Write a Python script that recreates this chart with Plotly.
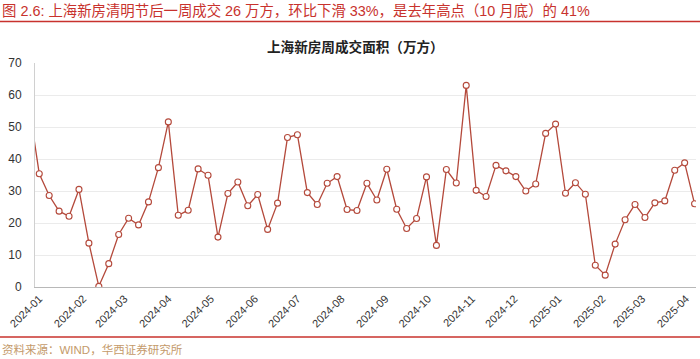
import pandas as pd
import plotly.graph_objects as go

# Weekly dates (week start, Mondays); first point lies just left of the axis range
weeks = pd.date_range("2023-12-25", periods=68, freq="7D")

# 上海新房周成交面积（万方）
area = [
    56.0,
    35.4, 28.6, 23.7, 22.1, 30.5, 13.7, 0.2, 7.3, 16.4, 21.5,
    19.4, 26.6, 37.3, 51.6, 22.4, 24.0, 36.9, 34.9, 15.6, 29.2,
    32.8, 25.4, 28.9, 18.0, 26.2, 46.7, 47.6, 29.5, 25.8, 32.4,
    34.5, 24.2, 23.9, 32.4, 27.2, 36.8, 24.3, 18.3, 21.4, 34.4,
    13.0, 36.7, 32.5, 63.0, 30.2, 28.3, 38.0, 36.3, 34.5, 30.0,
    32.2, 48.0, 50.9, 29.3, 32.6, 29.0, 6.8, 3.7, 13.4, 21.0,
    25.8, 21.7, 26.3, 26.9, 36.5, 38.8, 26.0,
]

y_ticks = [0, 10, 20, 30, 40, 50, 60, 70]

header = "图 2.6: 上海新房清明节后一周成交 26 万方，环比下滑 33%，是去年高点（10 月底）的 41%"
chart_title = "<b>上海新房周成交面积（万方）</b>"
source = "资料来源：WIND，华西证券研究所"

line_color = "#b4493b"
red = "#c8322d"
tan = "#c49a6a"
font_family = "Liberation Sans, Arial, Noto Sans CJK SC, sans-serif"

fig = go.Figure()
fig.add_trace(go.Scatter(
    x=weeks, y=area, mode="lines+markers",
    line=dict(color=line_color, width=1.3),
    marker=dict(symbol="circle", size=6, color="white",
                line=dict(color=line_color, width=1.1)),
    showlegend=False,
))

W, H = 700, 359
L, R, T, B = 35, 4, 63, 72
pw, ph = W - L - R, H - T - B

def px(X):
    return (X - L) / pw

def py(Y):
    return (H - B - Y) / ph

fig.update_layout(
    width=W, height=H,
    margin=dict(l=L, r=R, t=T, b=B),
    paper_bgcolor="white", plot_bgcolor="white",
    font=dict(family=font_family, size=11, color="#333333"),
    xaxis=dict(
        type="date",
        range=["2023-12-29", "2025-04-08"],
        dtick="M1", tick0="2024-01-01", tickformat="%Y-%m",
        tickangle=-45, tickfont=dict(size=11, color="#333333"),
        showgrid=False, showline=True, linecolor="#b8b8b8", linewidth=1,
        ticks="", zeroline=False,
    ),
    yaxis=dict(
        range=[0, 70], tickvals=y_ticks,
        tickfont=dict(size=12, color="#333333"),
        showgrid=True, gridcolor="#ebebeb", gridwidth=1,
        showline=True, linecolor="#d0d0d0", linewidth=1,
        ticks="outside", ticklen=10, tickcolor="rgba(0,0,0,0)",
        zeroline=False,
    ),
    shapes=[
        dict(type="line", xref="paper", yref="paper",
             x0=px(0), x1=px(W), y0=py(21.5), y1=py(21.5),
             line=dict(color=red, width=1.5)),
        dict(type="line", xref="paper", yref="paper",
             x0=px(0), x1=px(W), y0=py(337), y1=py(337),
             line=dict(color=red, width=1.5)),
    ],
    annotations=[
        dict(text=header, xref="paper", yref="paper",
             x=px(0), y=py(10), xanchor="left", yanchor="middle",
             showarrow=False,
             font=dict(size=14.4, color=red,
                       family="Liberation Sans, Noto Sans CJK SC, sans-serif")),
        dict(text=chart_title, xref="paper", yref="paper",
             x=px(355), y=py(46), xanchor="center", yanchor="middle",
             showarrow=False,
             font=dict(size=13.6, color="#222222",
                       family="Noto Sans CJK SC, sans-serif")),
        dict(text=source, xref="paper", yref="paper",
             x=px(0), y=py(349), xanchor="left", yanchor="middle",
             showarrow=False,
             font=dict(size=11.5, color=tan,
                       family="Liberation Sans, Noto Sans CJK SC, sans-serif")),
    ],
)

fig.write_html(
    "out.html",
    config={"displayModeBar": False},
    post_script="document.body.style.margin='0';document.body.style.overflow='hidden';",
)
